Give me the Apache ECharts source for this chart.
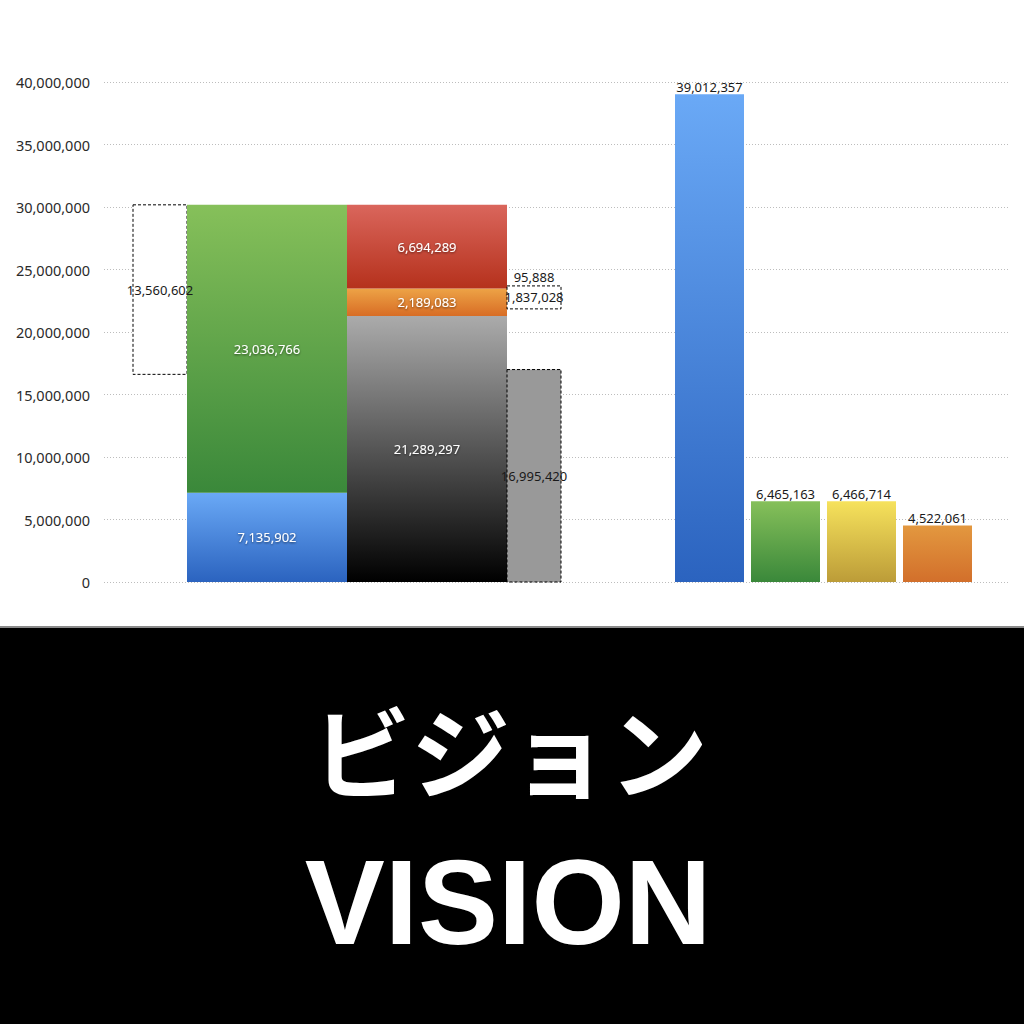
<!DOCTYPE html>
<html>
<head>
<meta charset="utf-8">
<script src="https://cdn.jsdelivr.net/npm/echarts@6/dist/echarts.min.js"></script>
<style>
  html, body { margin: 0; padding: 0; background: #fff; }
  #main { width: 1024px; height: 1024px; }
</style>
</head>
<body>
<div id="main"></div>
<script>
// ---------- data ----------
const yMin = 0;
const yMax = 40000000;
const yInterval = 5000000;

// left stack 1: blue (bottom), green (top)
const stackOneValues = [7135902, 23036766];
// left stack 2: gray/black (bottom), orange, red (top)
const stackTwoValues = [21289297, 2189083, 6694289];
// dashed gap box next to stack 1
const gapValue = 13560602;
// small dashed box and the tiny bar above it
const smallBoxValue = 1837028;
const tinyValue = 95888;
const smallBoxBase = 21850000;
// dashed gray bar
const grayBarValue = 16995420;
// right group of four bars
const rightValues = [39012357, 6465163, 6466714, 4522061];

const titleJa = 'ビジョン';
const titleEn = 'VISION';

// ---------- layout (x spans in plot pixels, not data) ----------
const spanGap = [29, 83];
const spanOne = [83, 243];
const spanTwo = [243, 403];
const spanThree = [403, 457];
const spansRight = [[571, 640], [647, 716], [723, 792], [799, 868]];

// ---------- styles ----------
function grad(top, bottom) {
  return { type: 'linear', x: 0, y: 0, x2: 0, y2: 1, global: false,
    colorStops: [{ offset: 0, color: top }, { offset: 1, color: bottom }] };
}
const gBlue = grad('#6aa9f6', '#2b63bf');
const gGreen = grad('#86c05a', '#3a883a');
const gRed = grad('#da665c', '#b5311c');
const gOrange = grad('#eda346', '#d86d25');
const gBlack = grad('#ababab', '#000000');
const gYellow = grad('#f6e25c', '#bc9c38');
const gOrange2 = grad('#e3983f', '#d26f2b');

const fmt = v => v.toLocaleString('en-US');
const dashedWhite = { fill: '#ffffff', stroke: '#000000', lineWidth: 1, lineDash: [3, 2] };
const dashedGray = { fill: '#999999', stroke: '#000000', lineWidth: 1, lineDash: [3, 2] };

const stackOneTotal = stackOneValues[0] + stackOneValues[1];

const marks = [];
function addMark(span, base, value, style, labelKind, labelPos) {
  marks.push({ span, base, value, style, labelKind, labelPos });
}
addMark(spanGap, stackOneTotal - gapValue, gapValue, dashedWhite, 'dark', 'inside');
addMark(spanOne, 0, stackOneValues[0], { fill: gBlue }, 'light', 'inside');
addMark(spanOne, stackOneValues[0], stackOneValues[1], { fill: gGreen }, 'light', 'inside');
let acc = 0;
const stackTwoFills = [gBlack, gOrange, gRed];
stackTwoValues.forEach((v, i) => { addMark(spanTwo, acc, v, { fill: stackTwoFills[i] }, 'light', 'inside'); acc += v; });
addMark(spanThree, 0, grayBarValue, dashedGray, 'dark', 'inside');
addMark(spanThree, smallBoxBase, smallBoxValue, dashedWhite, 'dark', 'inside');
addMark(spanThree, smallBoxBase + smallBoxValue, tinyValue, { fill: 'rgba(0,0,0,0)' }, 'dark', 'top');
const rightFills = [gBlue, gGreen, gYellow, gOrange2];
rightValues.forEach((v, i) => addMark(spansRight[i], 0, v, { fill: rightFills[i] }, 'dark', 'top'));

const seriesData = marks.map(m => [m.span[0], m.span[1], m.base, m.base + m.value, m.value]);

const font = '"Noto Sans", "Noto Sans CJK JP", sans-serif';

const chart = echarts.init(document.getElementById('main'), null, { renderer: 'svg' });
chart.setOption({
  backgroundColor: '#ffffff',
  animation: false,
  grid: { left: 104, right: 16, top: 82, bottom: 442, containLabel: false },
  xAxis: { type: 'value', min: 0, max: 904, show: false },
  yAxis: {
    type: 'value', min: yMin, max: yMax, interval: yInterval,
    axisLine: { show: false }, axisTick: { show: false },
    axisLabel: { color: '#2a2a2a', fontSize: 14.5, fontFamily: font, margin: 14, formatter: v => fmt(v) },
    splitLine: { show: true, lineStyle: { type: [1, 2], color: '#bdbdbd', width: 1 } }
  },
  series: [{
    type: 'custom',
    clip: false,
    data: seriesData,
    renderItem: function (params, api) {
      const m = marks[params.dataIndex];
      const p0 = api.coord([api.value(0), api.value(3)]);
      const p1 = api.coord([api.value(1), api.value(2)]);
      const light = m.labelKind === 'light';
      return {
        type: 'rect',
        shape: { x: p0[0], y: p0[1], width: p1[0] - p0[0], height: p1[1] - p0[1] },
        style: Object.assign({}, m.style),
        textContent: {
          style: {
            text: fmt(api.value(4)),
            fill: light ? '#ffffff' : '#1a1a1a',
            fontSize: 13,
            fontFamily: font,
            textShadowColor: light ? 'rgba(0,0,0,0.55)' : 'transparent',
            textShadowBlur: light ? 2 : 0,
            textShadowOffsetY: light ? 1 : 0
          }
        },
        textConfig: { position: m.labelPos, distance: 1 }
      };
    }
  }],
  graphic: [
    { type: 'rect', shape: { x: 0, y: 626, width: 1024, height: 398 }, style: { fill: '#000000' }, z: 0 },
    { type: 'rect', shape: { x: 0, y: 626, width: 1024, height: 2 }, style: { fill: '#8a8a8a' }, z: 1 },
    { type: 'text', x: 510, y: 748, z: 2,
      style: { text: titleJa, fill: '#ffffff', fontSize: 99, fontWeight: 'bold',
        fontFamily: '"Noto Sans CJK JP", sans-serif', align: 'center', verticalAlign: 'middle' } },
    { type: 'text', x: 508, y: 902, z: 2,
      style: { text: titleEn, fill: '#ffffff', fontSize: 120, fontWeight: 'bold',
        fontFamily: '"Liberation Sans", Arial, sans-serif', align: 'center', verticalAlign: 'middle' } }
  ]
});
</script>
</body>
</html>
